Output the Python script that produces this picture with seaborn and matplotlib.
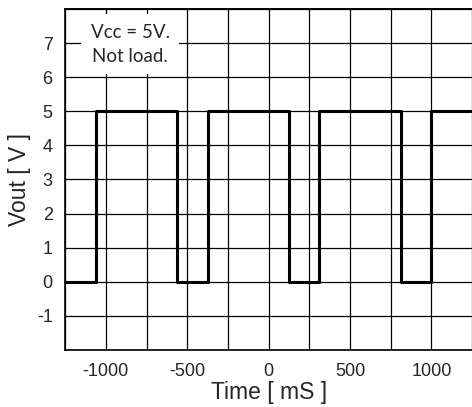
import pandas as pd
import seaborn as sns
import matplotlib.pyplot as plt
from matplotlib.ticker import MultipleLocator

# square wave edges (ms, volts)
time_ms = [-1250, -1060, -560, -375, 125, 312, 813, 1000, 1250]
vout = [0, 5, 0, 5, 0, 5, 0, 5, 5]

x_ticks = [-1000, -500, 0, 500, 1000]
y_ticks = [-1, 0, 1, 2, 3, 4, 5, 6, 7]

df = pd.DataFrame({'time': time_ms, 'vout': vout})

sns.set_style('white')
plt.rcParams['font.family'] = ['Liberation Sans', 'DejaVu Sans']
plt.rcParams['axes.unicode_minus'] = False

fig = plt.figure(figsize=(4.72, 4.07), dpi=100)
ax = fig.add_axes([0.138, 0.14, 0.862, 0.838])

sns.lineplot(data=df, x='time', y='vout', ax=ax, color='black', linewidth=2.2,
             drawstyle='steps-post', estimator=None, sort=False)

ax.set_xlim(-1250, 1250)
ax.set_ylim(-2, 8)
ax.set_xticks(x_ticks)
ax.set_yticks(y_ticks)
ax.xaxis.set_minor_locator(MultipleLocator(250))
ax.yaxis.set_minor_locator(MultipleLocator(1))
ax.grid(which='both', color='black', linewidth=0.9)
ax.set_axisbelow(True)
ax.tick_params(which='both', length=0, labelsize=13)
ax.tick_params(axis='y', pad=9)
ax.tick_params(axis='x', pad=9)

ax.spines['right'].set_visible(False)
for side in ['left', 'bottom', 'top']:
    ax.spines[side].set_visible(True)
    ax.spines[side].set_color('black')
    ax.spines[side].set_linewidth(1.2)
# top border line of the grid
ax.axhline(8, color='black', linewidth=1.2, clip_on=False, zorder=1)

ax.set_xlabel('Time [ mS ]', fontsize=16.5, labelpad=1)
ax.set_ylabel('Vout [ V ]', fontsize=16.5, labelpad=4)

ax.text(-850, 6.97, 'Vcc = 5V.\nNot load.', ha='center', va='center',
        fontsize=13.5, family=['Lato', 'DejaVu Sans'], linespacing=1.5,
        bbox=dict(boxstyle='square,pad=0.5', facecolor='white', edgecolor='none'),
        zorder=5)

fig.savefig('out.png', dpi=100)
